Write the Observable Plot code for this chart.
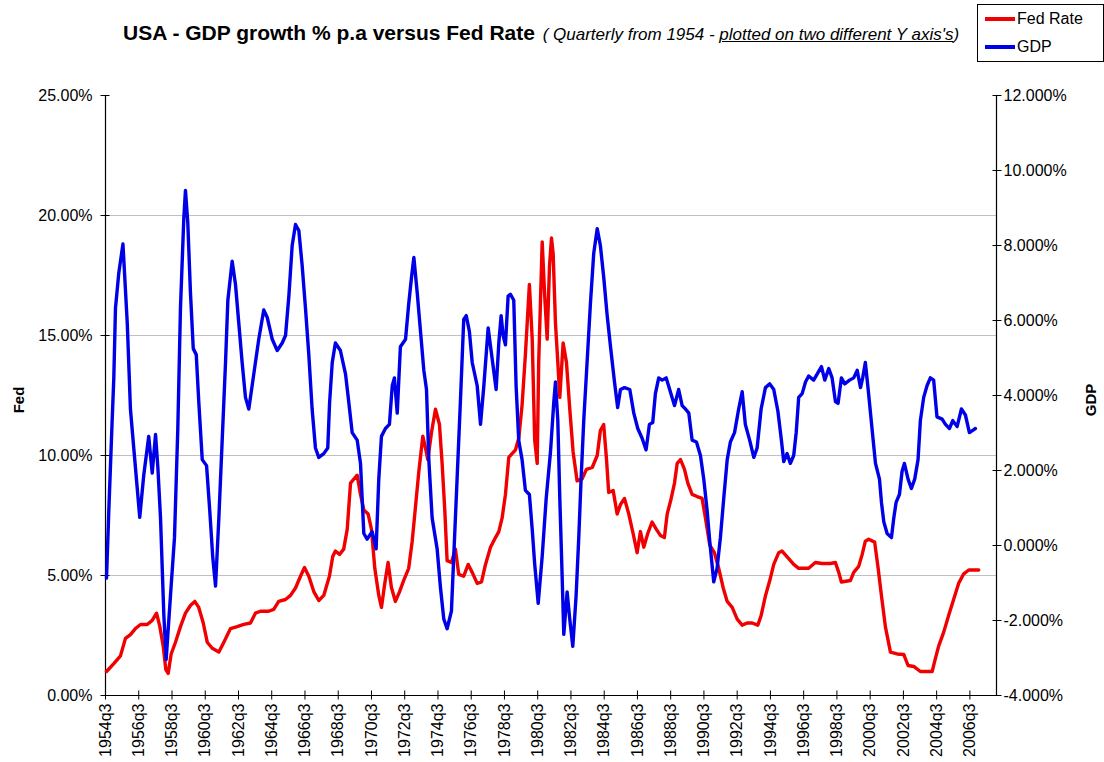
<!DOCTYPE html>
<html>
<head>
<meta charset="utf-8">
<script src="https://cdn.jsdelivr.net/npm/d3@7"></script>
<script src="https://cdn.jsdelivr.net/npm/@observablehq/plot@0.6"></script>
<style>
  body { margin: 0; background: #fff; font-family: "Liberation Sans", Arial, sans-serif; }
  #wrap { position: relative; width: 1104px; height: 762px; overflow: hidden; background: #fff; }
  #chart { position: absolute; left: 0; top: 0; }
  #title { position: absolute; left: 123px; top: 21px; white-space: nowrap; color: #000; }
  #title .main { font-weight: bold; font-size: 21px; }
  #title .sub { font-style: italic; font-size: 17px; margin-left: 3px; }
  #legend { position: absolute; left: 977px; top: 4px; width: 127px; height: 58px; border: 1px solid #000; background: #fff; box-sizing: border-box; }
  .leg { position: absolute; left: 7px; height: 22px; display: flex; align-items: center; font-size: 16px; color: #000; }
  .leg .sw { width: 30px; height: 4px; margin-right: 2px; }
  .ytitle { position: absolute; font-weight: bold; font-size: 15px; transform: translate(-50%, -50%) rotate(-90deg); white-space: nowrap; color: #000; }
</style>
</head>
<body>
<div id="wrap">
  <div id="chart"></div>
  <div id="title"><span class="main">USA - GDP growth % p.a versus Fed Rate</span><span class="sub"> ( Quarterly from 1954 - <u>plotted on two different Y axis's</u>)</span></div>
  <div id="legend">
    <div class="leg" style="top:3px"><span class="sw" style="background:#f00000"></span>Fed Rate</div>
    <div class="leg" style="top:31px"><span class="sw" style="background:#0000e8"></span>GDP</div>
  </div>
  <div class="ytitle" style="left:18px; top:400px">Fed</div>
  <div class="ytitle" style="left:1090px; top:400px">GDP</div>
</div>
<script>
// ---- data : [decimal year, value %] ----
const fedRate = [[1954.56,1.00],[1955.00,1.33],[1955.40,1.65],[1955.70,2.38],[1956.00,2.54],[1956.30,2.79],[1956.61,2.96],[1957.01,2.96],[1957.31,3.13],[1957.57,3.43],[1957.77,2.87],[1957.97,2.06],[1958.13,1.08],[1958.27,0.92],[1958.45,1.73],[1958.71,2.22],[1959.01,2.87],[1959.31,3.43],[1959.61,3.75],[1959.87,3.92],[1960.11,3.67],[1960.38,3.02],[1960.62,2.22],[1960.92,1.97],[1961.32,1.81],[1961.62,2.22],[1962.02,2.79],[1962.42,2.87],[1962.82,2.96],[1963.22,3.02],[1963.52,3.43],[1963.82,3.51],[1964.32,3.51],[1964.62,3.59],[1964.92,3.92],[1965.33,4.00],[1965.63,4.17],[1965.93,4.48],[1966.23,4.97],[1966.47,5.33],[1966.73,4.97],[1967.03,4.33],[1967.33,3.96],[1967.63,4.17],[1967.97,4.97],[1968.17,5.79],[1968.33,6.02],[1968.58,5.88],[1968.83,6.10],[1969.04,6.92],[1969.24,8.85],[1969.44,9.02],[1969.64,9.18],[1969.84,8.38],[1970.04,7.73],[1970.30,7.56],[1970.50,6.92],[1970.70,5.30],[1970.94,4.17],[1971.10,3.67],[1971.30,4.67],[1971.50,5.54],[1971.70,4.50],[1971.94,3.92],[1972.18,4.31],[1972.44,4.80],[1972.74,5.30],[1972.95,6.43],[1973.15,7.88],[1973.35,9.34],[1973.59,10.80],[1973.75,10.32],[1973.89,9.83],[1974.11,10.96],[1974.35,11.93],[1974.59,11.29],[1974.75,9.67],[1974.91,7.73],[1975.05,5.62],[1975.31,5.54],[1975.55,6.10],[1975.75,5.05],[1976.05,4.97],[1976.32,5.46],[1976.56,5.13],[1976.86,4.67],[1977.12,4.73],[1977.36,5.46],[1977.66,6.18],[1977.96,6.58],[1978.16,6.83],[1978.36,7.40],[1978.56,8.38],[1978.76,9.92],[1978.96,10.08],[1979.16,10.23],[1979.36,10.72],[1979.56,12.10],[1979.76,14.20],[1980.00,17.13],[1980.17,14.85],[1980.32,10.64],[1980.47,9.67],[1980.56,13.88],[1980.77,18.90],[1980.91,16.80],[1981.07,14.85],[1981.21,17.90],[1981.33,19.06],[1981.43,18.40],[1981.57,15.50],[1981.71,13.88],[1981.83,12.42],[1982.03,14.69],[1982.23,13.88],[1982.43,11.93],[1982.63,10.15],[1982.87,8.94],[1983.17,9.02],[1983.43,9.42],[1983.78,9.50],[1984.08,10.00],[1984.27,11.04],[1984.47,11.29],[1984.64,9.83],[1984.77,8.46],[1985.04,8.54],[1985.28,7.56],[1985.48,7.96],[1985.72,8.21],[1985.98,7.56],[1986.24,6.75],[1986.48,5.95],[1986.68,6.83],[1986.88,6.18],[1987.12,6.75],[1987.38,7.23],[1987.64,6.92],[1987.88,6.67],[1988.12,6.58],[1988.29,7.56],[1988.53,8.21],[1988.73,8.85],[1988.89,9.67],[1989.09,9.83],[1989.33,9.42],[1989.53,8.85],[1989.79,8.38],[1990.09,8.29],[1990.39,8.21],[1990.59,7.40],[1990.85,6.27],[1991.13,5.95],[1991.39,5.30],[1991.66,4.48],[1991.90,3.92],[1992.20,3.67],[1992.50,3.18],[1992.80,2.93],[1993.10,3.02],[1993.40,3.02],[1993.74,2.93],[1993.94,3.33],[1994.20,4.15],[1994.46,4.79],[1994.70,5.46],[1995.00,5.95],[1995.20,6.02],[1995.60,5.70],[1995.90,5.46],[1996.20,5.30],[1996.80,5.30],[1997.20,5.54],[1997.61,5.50],[1998.11,5.50],[1998.41,5.54],[1998.61,5.13],[1998.77,4.73],[1999.31,4.79],[1999.51,5.13],[1999.81,5.38],[2000.02,5.88],[2000.21,6.43],[2000.41,6.51],[2000.77,6.39],[2000.98,5.30],[2001.18,4.15],[2001.42,2.85],[2001.72,1.81],[2002.12,1.73],[2002.52,1.71],[2002.78,1.25],[2003.12,1.21],[2003.52,1.00],[2004.23,1.00],[2004.38,1.42],[2004.62,2.06],[2004.92,2.63],[2005.22,3.33],[2005.52,4.00],[2005.82,4.67],[2006.13,5.07],[2006.43,5.23],[2007.03,5.23]];

const gdpGrowth = [[1954.56,-0.87],[1954.70,0.94],[1954.90,3.33],[1955.00,4.47],[1955.10,6.33],[1955.30,7.27],[1955.55,8.04],[1955.81,5.92],[1956.00,3.64],[1956.20,2.60],[1956.56,0.75],[1956.80,1.87],[1957.10,2.91],[1957.31,1.93],[1957.51,2.96],[1957.65,2.08],[1957.81,0.73],[1958.01,-1.86],[1958.15,-3.04],[1958.41,-1.33],[1958.65,0.21],[1958.85,3.12],[1959.01,6.33],[1959.21,8.72],[1959.31,9.47],[1959.45,8.61],[1959.61,6.75],[1959.78,5.25],[1959.96,5.09],[1960.11,3.84],[1960.32,2.29],[1960.58,2.13],[1960.77,0.94],[1960.95,-0.30],[1961.12,-1.08],[1961.32,0.74],[1961.52,2.81],[1961.72,4.88],[1961.86,6.54],[1962.12,7.58],[1962.32,6.96],[1962.52,5.92],[1962.72,4.88],[1962.92,3.95],[1963.12,3.64],[1963.42,4.57],[1963.72,5.50],[1964.02,6.28],[1964.23,6.08],[1964.53,5.50],[1964.83,5.20],[1965.13,5.40],[1965.33,5.60],[1965.53,6.65],[1965.73,8.00],[1965.93,8.56],[1966.13,8.40],[1966.33,7.47],[1966.53,6.33],[1966.73,5.09],[1966.93,3.64],[1967.13,2.60],[1967.33,2.35],[1967.63,2.45],[1967.87,2.60],[1967.98,3.80],[1968.14,4.88],[1968.33,5.40],[1968.63,5.20],[1968.94,4.57],[1969.13,3.84],[1969.34,3.01],[1969.64,2.81],[1969.84,2.19],[1970.04,0.32],[1970.24,0.17],[1970.54,0.37],[1970.78,-0.09],[1970.94,1.77],[1971.10,2.91],[1971.34,3.12],[1971.58,3.23],[1971.75,4.26],[1971.88,4.47],[1972.05,3.53],[1972.24,5.30],[1972.55,5.50],[1972.74,6.44],[1972.91,7.16],[1973.05,7.68],[1973.25,6.75],[1973.45,5.71],[1973.65,4.67],[1973.81,4.16],[1973.95,2.29],[1974.15,0.73],[1974.45,-0.09],[1974.65,-1.12],[1974.85,-1.96],[1975.05,-2.22],[1975.31,-1.75],[1975.45,-0.29],[1975.65,1.77],[1975.85,3.84],[1976.05,6.03],[1976.20,6.13],[1976.39,5.71],[1976.56,4.88],[1976.86,4.26],[1977.06,3.23],[1977.26,4.26],[1977.52,5.80],[1977.76,4.98],[1978.00,4.16],[1978.16,5.40],[1978.30,6.13],[1978.42,5.60],[1978.56,5.35],[1978.72,6.65],[1978.86,6.70],[1979.06,6.54],[1979.20,4.26],[1979.36,2.80],[1979.56,2.29],[1979.76,1.47],[1980.00,1.36],[1980.17,0.43],[1980.32,-0.50],[1980.53,-1.54],[1980.77,-0.29],[1981.01,1.25],[1981.27,2.50],[1981.47,3.84],[1981.57,4.36],[1981.71,3.33],[1981.83,1.25],[1981.97,-0.82],[1982.07,-2.37],[1982.27,-1.24],[1982.43,-1.97],[1982.61,-2.69],[1982.81,-1.34],[1982.97,0.21],[1983.11,1.77],[1983.27,3.33],[1983.47,4.88],[1983.67,6.44],[1983.87,7.79],[1984.08,8.45],[1984.27,8.00],[1984.47,7.16],[1984.68,6.13],[1984.88,5.30],[1985.12,4.36],[1985.31,3.68],[1985.48,4.16],[1985.72,4.21],[1986.04,4.16],[1986.28,3.53],[1986.52,3.12],[1986.78,2.86],[1987.02,2.55],[1987.22,3.23],[1987.42,3.28],[1987.58,4.05],[1987.78,4.47],[1987.99,4.41],[1988.23,4.47],[1988.44,4.16],[1988.73,3.73],[1988.98,4.16],[1989.19,3.73],[1989.39,3.64],[1989.59,3.53],[1989.79,2.81],[1990.05,2.76],[1990.29,2.40],[1990.49,1.77],[1990.69,0.94],[1990.85,0.11],[1991.09,-0.97],[1991.29,-0.61],[1991.49,0.21],[1991.69,1.25],[1991.90,2.29],[1992.09,2.76],[1992.34,3.01],[1992.59,3.64],[1992.80,4.10],[1992.99,3.23],[1993.25,2.81],[1993.50,2.35],[1993.70,2.60],[1993.94,3.64],[1994.20,4.21],[1994.46,4.31],[1994.70,4.16],[1994.95,3.58],[1995.16,2.81],[1995.30,2.24],[1995.50,2.45],[1995.70,2.19],[1995.90,2.40],[1996.05,3.01],[1996.20,3.95],[1996.41,4.05],[1996.61,4.36],[1996.80,4.52],[1997.10,4.41],[1997.31,4.57],[1997.57,4.77],[1997.77,4.41],[1998.01,4.72],[1998.21,4.47],[1998.41,3.84],[1998.57,3.79],[1998.77,4.47],[1998.97,4.31],[1999.26,4.41],[1999.51,4.47],[1999.72,4.67],[1999.92,4.21],[2000.05,4.47],[2000.21,4.88],[2000.38,4.16],[2000.52,3.53],[2000.68,2.81],[2000.82,2.19],[2001.06,1.77],[2001.18,1.15],[2001.32,0.63],[2001.52,0.32],[2001.78,0.21],[2001.92,0.73],[2002.06,1.15],[2002.26,1.36],[2002.42,1.98],[2002.56,2.19],[2002.78,1.77],[2002.98,1.52],[2003.18,1.77],[2003.38,2.29],[2003.52,3.33],[2003.72,3.95],[2003.92,4.26],[2004.12,4.47],[2004.32,4.41],[2004.52,3.43],[2004.83,3.37],[2005.03,3.23],[2005.27,3.12],[2005.47,3.33],[2005.73,3.17],[2005.99,3.64],[2006.23,3.48],[2006.47,3.01],[2006.67,3.07],[2006.83,3.12]];

const xTickLabels = ["1954q3","1956q3","1958q3","1960q3","1962q3","1964q3","1966q3","1968q3","1970q3","1972q3","1974q3","1976q3","1978q3","1980q3","1982q3","1984q3","1986q3","1988q3","1990q3","1992q3","1994q3","1996q3","1998q3","2000q3","2002q3","2004q3","2006q3"];
const fedTicks = [0, 5, 10, 15, 20, 25];
const gdpTicks = [-4, -2, 0, 2, 4, 6, 8, 10, 12];
const gridValues = [5, 10, 15, 20];
const xDomain = [1954.5, 2008.1];
const fedDomain = [0, 25];
const gdpDomain = [-4, 12];

// ---- build ----
const labelToYear = s => +s.slice(0, 4) + (+s.slice(5) - 1) / 4;
const xTickPos = xTickLabels.map(labelToYear);
const labelMap = new Map(xTickPos.map((p, i) => [p, xTickLabels[i]]));
const gdpToFed = g => fedDomain[0] + (g - gdpDomain[0]) * (fedDomain[1] - fedDomain[0]) / (gdpDomain[1] - gdpDomain[0]);
const fedToGdp = f => gdpDomain[0] + (f - fedDomain[0]) * (gdpDomain[1] - gdpDomain[0]) / (fedDomain[1] - fedDomain[0]);
const gdpTickPos = gdpTicks.map(gdpToFed);

const fedData = fedRate.map(([t, v]) => ({t, v}));
const gdpData = gdpGrowth.map(([t, v]) => ({t, v: gdpToFed(v)}));

const chart = Plot.plot({
  width: 1104,
  height: 762,
  marginLeft: 105,
  marginRight: 108,
  marginTop: 95,
  marginBottom: 67,
  style: { fontFamily: "Liberation Sans, Arial, sans-serif", fontSize: "16px", color: "#000", background: "transparent" },
  x: { domain: xDomain },
  y: { domain: fedDomain },
  marks: [
    Plot.ruleY(gridValues, { stroke: "#c0c0c0", strokeWidth: 1.2 }),
    Plot.axisY(fedTicks, { anchor: "left", tickSize: 0, tickPadding: 13, tickFormat: d => d.toFixed(2) + "%", label: null, fontSize: 16 }),
    Plot.axisY(fedTicks, { anchor: "left", tickSize: 9, dx: 4.5, tickFormat: () => "", label: null, stroke: "#000" }),
    Plot.axisY(gdpTickPos, { anchor: "right", tickSize: 0, tickPadding: 7, tickFormat: v => fedToGdp(v).toFixed(3) + "%", label: null, fontSize: 16 }),
    Plot.axisY(gdpTickPos, { anchor: "right", tickSize: 9, dx: -4.5, tickFormat: () => "", label: null, stroke: "#000" }),
    Plot.axisX(xTickPos, { anchor: "bottom", tickSize: 0, tickPadding: 8, tickRotate: -90, tickFormat: d => labelMap.get(d), label: null, fontSize: 16 }),
    Plot.axisX(xTickPos, { anchor: "bottom", tickSize: 9, dy: -4.5, tickFormat: () => "", label: null, stroke: "#000" }),
    Plot.ruleX(xDomain, { stroke: "#000", strokeWidth: 1.2 }),
    Plot.ruleY([fedDomain[0]], { stroke: "#000", strokeWidth: 1.2 }),
    Plot.line(fedData, { x: "t", y: "v", stroke: "#f00000", strokeWidth: 3.4, strokeLinejoin: "round" }),
    Plot.line(gdpData, { x: "t", y: "v", stroke: "#0000e8", strokeWidth: 3.4, strokeLinejoin: "round" })
  ]
});
document.getElementById("chart").appendChild(chart);
</script>
</body>
</html>
